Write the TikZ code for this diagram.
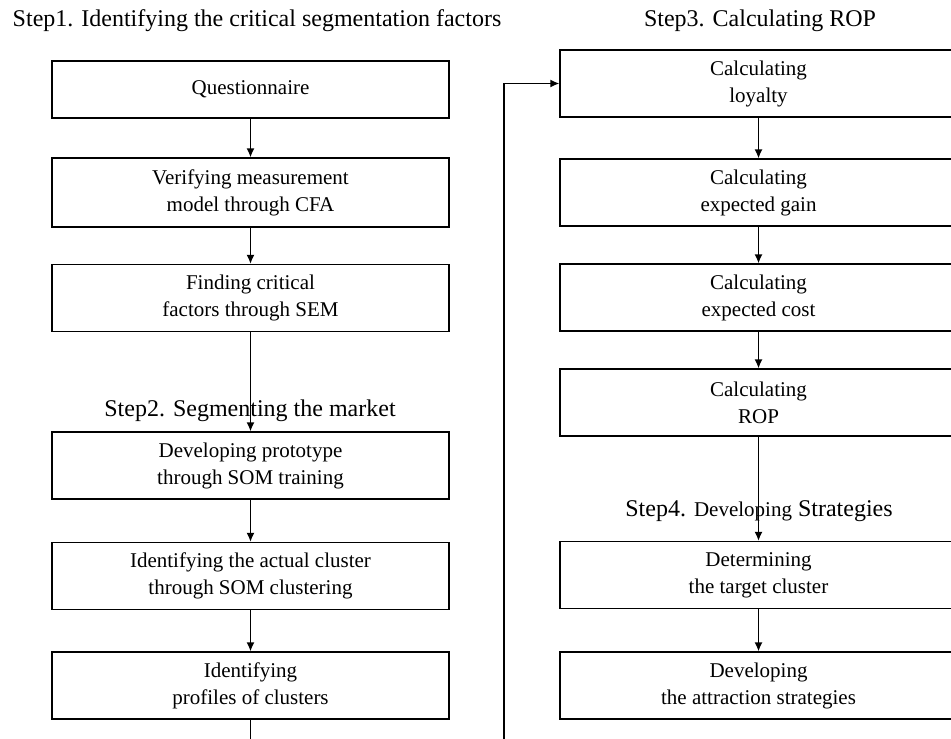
\documentclass[tikz,border=0pt]{standalone}
\usepackage{fontspec}
\setmainfont{Liberation Serif}
\usetikzlibrary{arrows.meta}

\tikzset{
	stepbox/.style={draw,line width=0.6pt,minimum width=198.5pt,minimum height=33.5pt,align=center,inner sep=2pt,font=\fontsize{10.5}{13.5}\selectfont},
	steplabel/.style={anchor=base,inner sep=0pt,font=\fontsize{12}{14}\selectfont},
	flow/.style={line width=0.8pt,-{Latex[length=4.5pt,width=4pt]}}
}

\begin{document}
\begin{tikzpicture}[x=0.5pt,y=-0.5pt]
		\useasboundingbox (0,0) rectangle (951,738);
		\clip (0,0) rectangle (951,738);
		
		% step titles
		\node[steplabel](s1)at(257,27) {Step1. Identifying the critical segmentation factors};
		\node[steplabel](s2)at(250,416) {Step2. Segmenting the market};
		\node[steplabel](s3)at(760,27) {Step3. Calculating ROP};
		\node[steplabel](s4)at(759,516) {Step4. {\fontsize{10.5}{12}\selectfont Developing} Strategies};
		
		% left column
		\node[stepbox,minimum height=28.5pt](quest)at(250.5,89.5) {Questionnaire};
		\node[stepbox,minimum height=34.5pt](cfa)at(250.5,192.5) {Verifying measurement\\model through CFA};
		\node[stepbox](sem)at(250.5,298) {Finding critical\\factors through SEM};
		\node[stepbox](train)at(250.5,465.5) {Developing prototype\\through SOM training};
		\node[stepbox](clust)at(250.5,576) {Identifying the actual cluster\\through SOM clustering};
		\node[stepbox](prof)at(250.5,685.5) {Identifying\\profiles of clusters};
		
		% right column
		\node[stepbox](loyal)at(758.5,83.5) {Calculating\\loyalty};
		\node[stepbox](gain)at(758.5,192.5) {Calculating\\expected gain};
		\node[stepbox](cost)at(758.5,297.5) {Calculating\\expected cost};
		\node[stepbox](rop)at(758.5,402.5) {Calculating\\ROP};
		\node[stepbox](target)at(758.5,575) {Determining\\the target cluster};
		\node[stepbox](attract)at(758.5,685.5) {Developing\\the attraction strategies};
		
		\coordinate (turn) at (504,760);
		
		\draw[flow](quest) -- (cfa);
		\draw[flow](cfa) -- (sem);
		\draw[flow](sem) -- (train);
		\draw[flow](train) -- (clust);
		\draw[flow](clust) -- (prof);
		\draw[flow](prof.south) |- (turn) |- (loyal.west);
		
		\draw[flow](loyal) -- (gain);
		\draw[flow](gain) -- (cost);
		\draw[flow](cost) -- (rop);
		\draw[flow](rop) -- (target);
		\draw[flow](target) -- (attract);
	\end{tikzpicture}
\end{document}
